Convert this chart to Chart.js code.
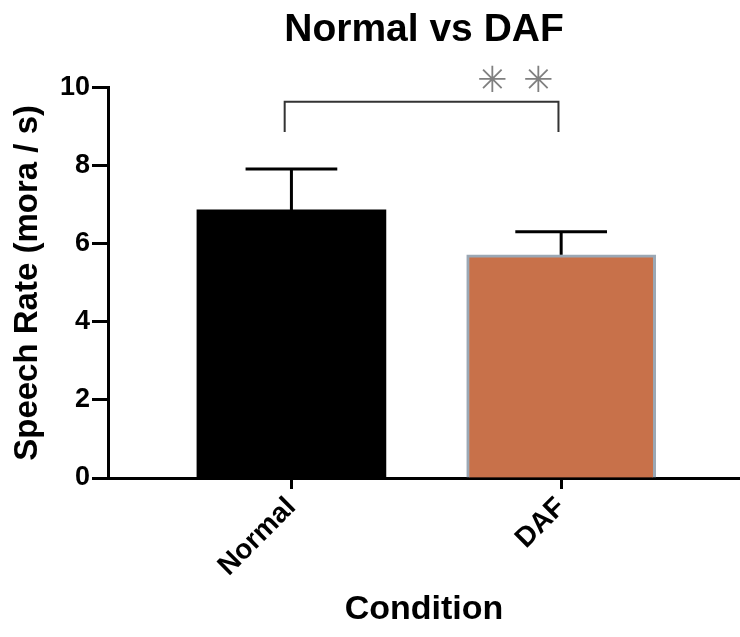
<!DOCTYPE html>
<html>
<head>
<meta charset="utf-8">
<script src="https://cdn.jsdelivr.net/npm/chart.js@4/dist/chart.umd.min.js"></script>
<style>
  html, body { margin: 0; padding: 0; background: #fff; }
  #wrap { width: 740px; height: 637px; }
</style>
</head>
<body>
<div id="wrap"><canvas id="chart"></canvas></div>
<script>
var categories = ["Normal", "DAF"];
var means = [6.87, 5.72];
var sds = [1.05, 0.59];
var barColors = ["#000000", "#c8714a"];
var barBorders = ["#000000", "#9ba8b5"];
var yTicks = [0, 2, 4, 6, 8, 10];
// significance bracket between the two bars
var sigLevel = 9.64;
var sigDrop = 8.87;
var sigLabel = "\u2733\u2733";

var FONT = "'Liberation Sans', Arial, sans-serif";

document.addEventListener("DOMContentLoaded", function() {
  var ctx = document.getElementById("chart").getContext("2d");

  var points = categories.map(function(c, i) {
    return { x: i + 1, y: means[i] };
  });

  var extras = {
    id: "extras",
    afterDatasetsDraw: function(chart) {
      var c = chart.ctx;
      var xs = chart.scales.x, ys = chart.scales.y;
      c.save();
      // error bars (upper only)
      c.strokeStyle = "#000";
      c.lineWidth = 3;
      c.lineCap = "butt";
      for (var i = 0; i < means.length; i++) {
        var px = xs.getPixelForValue(i + 1);
        var top = ys.getPixelForValue(means[i] + sds[i]);
        var base = ys.getPixelForValue(means[i]);
        var half = (xs.getPixelForValue(1.17) - xs.getPixelForValue(1));
        c.beginPath();
        c.moveTo(px, base);
        c.lineTo(px, top);
        c.moveTo(px - half, top);
        c.lineTo(px + half, top);
        c.stroke();
      }
      // bracket
      var x1 = xs.getPixelForValue(0.975);
      var x2 = xs.getPixelForValue(1.99);
      var yTop = ys.getPixelForValue(sigLevel);
      var yBot = ys.getPixelForValue(sigDrop);
      c.strokeStyle = "#333";
      c.lineWidth = 2;
      c.beginPath();
      c.moveTo(x1, yBot);
      c.lineTo(x1, yTop);
      c.lineTo(x2, yTop);
      c.lineTo(x2, yBot);
      c.stroke();
      // stars
      c.fillStyle = "#808080";
      c.font = "36px 'DejaVu Sans'";
      c.textAlign = "center";
      c.textBaseline = "middle";
      var sx = xs.getPixelForValue(1.83);
      var sy = ys.getPixelForValue(10.13);
      c.fillText(sigLabel.charAt(0), sx - 23, sy);
      c.fillText(sigLabel.charAt(1), sx + 23, sy);
      c.restore();
    }
  };

  new Chart(ctx, {
    type: "bar",
    data: {
      datasets: [{
        data: points,
        backgroundColor: barColors,
        borderColor: barBorders,
        borderWidth: [0, 3],
        borderSkipped: "bottom",
        barThickness: 189
      }]
    },
    options: {
      responsive: true,
      maintainAspectRatio: false,
      animation: false,
      layout: { padding: 0 },
      plugins: {
        legend: { display: false },
        tooltip: { enabled: false },
        title: {
          display: true,
          text: "Normal vs DAF",
          fullSize: false,
          color: "#000",
          font: { family: FONT, size: 39, weight: "bold" },
          padding: { top: 7, bottom: 34 }
        }
      },
      scales: {
        x: {
          type: "linear",
          offset: false,
          min: 0.32,
          max: 2.663,
          afterBuildTicks: function(scale) {
            scale.ticks = categories.map(function(c, i) { return { value: i + 1 }; });
          },
          afterFit: function(scale) { scale.height = 159; },
          ticks: {
            color: "#000",
            font: { family: FONT, size: 28, weight: "bold" },
            minRotation: 45,
            maxRotation: 45,
            padding: 2,
            callback: function(v) { return categories[v - 1]; }
          },
          grid: {
            offset: false,
            drawOnChartArea: false,
            drawTicks: true,
            tickLength: 11,
            tickWidth: 3,
            tickColor: "#000"
          },
          border: { color: "#000", width: 3 },
          title: {
            display: true,
            text: "Condition",
            color: "#000",
            font: { family: FONT, size: 34, weight: "bold" },
            padding: { top: 0, bottom: 7 }
          }
        },
        y: {
          min: 0,
          max: 10,
          afterBuildTicks: function(scale) {
            scale.ticks = yTicks.map(function(v) { return { value: v }; });
          },
          afterFit: function(scale) { scale.width = 108; },
          ticks: {
            color: "#000",
            font: { family: FONT, size: 27, weight: "bold" },
            padding: 2
          },
          grid: {
            drawOnChartArea: false,
            drawTicks: true,
            tickLength: 16,
            tickWidth: 3,
            tickColor: "#000"
          },
          border: { color: "#000", width: 3 },
          title: {
            display: true,
            text: "Speech Rate (mora / s)",
            color: "#000",
            font: { family: FONT, size: 33, weight: "bold" },
            padding: { top: 8, bottom: 0 }
          }
        }
      }
    },
    plugins: [extras]
  });
});
</script>
</body>
</html>
